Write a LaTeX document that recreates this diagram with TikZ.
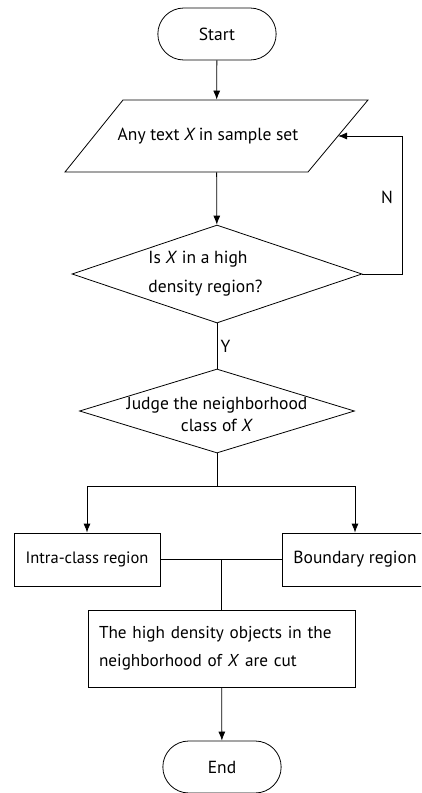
\documentclass[tikz,border=0pt]{standalone}
\usepackage{fontspec}
\setmainfont{PT Sans}
\usetikzlibrary{shapes.geometric,shapes.misc,arrows.meta}
\tikzset{
    term/.style = {draw, rounded rectangle, minimum width=125pt, minimum height=52pt},
    decide/.style = {draw, diamond, inner sep=0pt},
    proc/.style = {draw, rectangle, minimum height=53pt},
    arr/.style = {-{Latex[length=9pt,width=7pt]}}
}
\begin{document}
\begin{tikzpicture}[x=1pt, y=-1pt, line width=0.8pt, font=\fontsize{17.5}{21}\selectfont]
    \useasboundingbox (0,0) rectangle (421,793);
    \clip (0,0) rectangle (421,793);
    % shapes
    \node [term] (start) at (217,34) {Start};
    \coordinate (intl) at (123,100);
    \coordinate (intr) at (368,100);
    \coordinate (inbr) at (308,172);
    \coordinate (inbl) at (65,172);
    \coordinate (inright) at (338,136);
    \draw (intl) -- (intr) -- (inbr) -- (inbl) -- cycle;
    \node [minimum width=243pt, minimum height=72pt, inner sep=0pt] (input) at (216.5,136) {};
    \node (inputtext) at (208,136) {Any text \textit{X}\,in sample set};
    \node [decide, minimum width=290pt, minimum height=98pt] (dens) at (217,274) {};
    \node [align=left, font=\fontsize{17.5}{29}\selectfont] (denstext) at (205.5,274) {Is \textit{X} in a high\\density region?};
    \node [decide, minimum width=275pt, minimum height=84pt] (judge) at (217,411) {};
    \node [align=center, font=\fontsize{17.5}{22}\selectfont] (judgetext) at (217,414) {Judge the neighborhood\\class of \textit{X}};
    \node [proc, minimum width=146pt, font=\fontsize{16.5}{20}\selectfont] (intra) at (87,559.5) {Intra-class region};
    \node [proc, minimum width=146pt] (boundary) at (355,559.5) {Boundary region};
    \node [proc, minimum width=267pt, minimum height=77pt, text width=245pt, inner sep=11pt,
        align=left, font=\fontsize{17.2}{28}\selectfont] (cut) at (221.5,648.5)
        {The high density objects in the\\neighborhood of \textit{X} are cut};
    \node [term] (end) at (222,767) {End};
    % connectors
    \coordinate (loop) at (402,274);
    \coordinate (split) at (217,486);
    \coordinate (join) at (intra -| cut);
    \draw [arr] (start) -- (input);
    \draw [arr] (input) -- (dens);
    \draw [arr] (dens.east) -- (loop) |- (inright);
    \node (nlabel) at (387,197) {N};
    \draw (dens) -- node [right] (ylabel) {Y} (judge);
    \draw (judge.south) -- (split);
    \draw [arr] (split) -| (intra);
    \draw [arr] (split) -| (boundary);
    \draw (intra) -- (boundary);
    \draw (join) -- (cut);
    \draw [arr] (cut) -- (end);
\end{tikzpicture}
\end{document}
